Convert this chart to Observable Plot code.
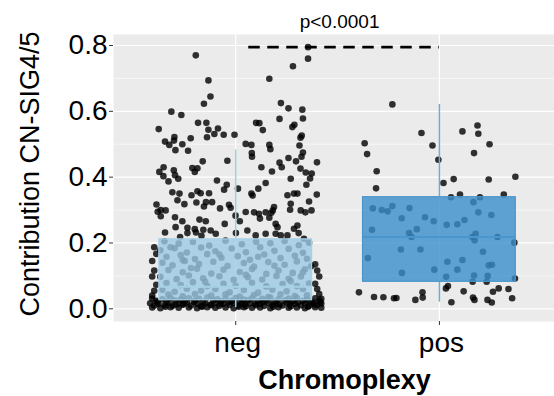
<!DOCTYPE html>
<html><head><meta charset="utf-8">
<script src="https://cdn.jsdelivr.net/npm/d3@7"></script>
<script src="https://cdn.jsdelivr.net/npm/@observablehq/plot@0.6"></script>
<style>body{margin:0;background:#fff} svg{display:block}</style>
</head><body><div id="chart"></div>
<script>
// ---- data ----
const groups = ["neg", "pos"];
const q1 = [0.026, 0.082];
const median = [0.067, 0.218];
const q3 = [0.211, 0.339];
const whiskerLo = [0.003, 0.020];
const whiskerHi = [0.483, 0.621];
const yTicks = [0, 0.2, 0.4, 0.6, 0.8];
const yMinor = [0.1, 0.3, 0.5, 0.7];
const pLabel = "p<0.0001";
const sigY = 0.795, sigX1 = 1.064, sigX2 = 2.0;
const xTitle = "Chromoplexy";
const yTitle = "Contribution CN-SIG4/5";

// jittered points: [horizontal jitter, value]
const negPoints = [
[-0.196,0.770],[-0.134,0.694],[-0.124,0.645],[-0.156,0.623],[-0.316,0.599],[-0.267,0.589],[-0.378,0.546],[-0.185,0.565],[-0.144,0.565],[-0.134,0.544],[-0.087,0.548],[-0.141,0.521],[-0.105,0.531],[-0.059,0.529],[-0.006,0.529],[-0.347,0.508],[-0.326,0.498],[-0.301,0.522],[-0.303,0.511],[-0.262,0.500],[-0.221,0.518],[-0.296,0.482],[-0.234,0.480],[-0.162,0.448],[-0.041,0.450],[-0.375,0.416],[-0.354,0.430],[-0.355,0.403],[-0.304,0.421],[-0.298,0.406],[-0.213,0.428],[-0.188,0.427],[-0.201,0.416],[-0.282,0.395],
[0.355,0.795],[0.355,0.760],[0.281,0.737],[0.165,0.699],[0.222,0.625],[0.259,0.609],[0.327,0.605],[0.215,0.577],[0.330,0.578],[0.100,0.565],[0.116,0.564],[0.288,0.559],[0.278,0.552],[0.133,0.543],[0.324,0.526],[0.318,0.520],[0.049,0.501],[0.077,0.498],[0.165,0.498],[0.170,0.485],[0.313,0.496],[0.330,0.475],[0.323,0.462],[0.079,0.473],[0.080,0.462],[0.259,0.458],[0.296,0.448],[0.399,0.445],[0.126,0.430],[0.215,0.444],[0.226,0.430],[0.178,0.417],[0.318,0.426],[0.344,0.414],[0.373,0.411],[0.270,0.395],[0.365,0.396],[-0.092,0.390],
[-0.330,0.387],[-0.044,0.377],[-0.057,0.362],[0.011,0.365],[-0.311,0.354],[-0.276,0.350],[-0.217,0.345],[-0.188,0.357],[-0.172,0.351],[-0.131,0.351],[-0.286,0.330],[-0.252,0.318],[-0.193,0.323],[-0.146,0.324],[-0.116,0.324],[-0.156,0.311],[-0.077,0.305],[-0.033,0.316],[-0.025,0.307],[-0.389,0.317],[-0.383,0.295],[-0.368,0.300],[-0.344,0.299],[-0.368,0.281],[-0.298,0.278],[-0.262,0.266],[-0.178,0.271],[-0.147,0.266],[-0.054,0.258],[-0.001,0.283],[0.020,0.266],[0.049,0.294],[-0.295,0.248],[-0.347,0.232],[-0.237,0.246],[-0.201,0.242],[-0.237,0.230],[-0.195,0.232],[-0.159,0.240],[-0.123,0.238],[-0.098,0.228],[-0.273,0.218],[-0.168,0.222],[0.001,0.230],
[0.077,0.350],[0.083,0.344],[0.111,0.365],[0.147,0.382],[0.254,0.345],[0.286,0.350],[0.303,0.350],[0.347,0.377],[0.398,0.347],[0.360,0.326],[0.090,0.293],[0.114,0.289],[0.119,0.274],[0.147,0.293],[0.175,0.292],[0.188,0.309],[0.182,0.299],[0.196,0.258],[0.205,0.248],[0.165,0.277],[0.270,0.319],[0.267,0.301],[0.319,0.299],[0.342,0.293],[0.372,0.299],[0.303,0.253],[0.286,0.243],[0.309,0.230],[0.221,0.223],[0.254,0.223],[0.335,0.213],[0.098,0.223],[0.147,0.228],[0.196,0.228],[0.057,0.238],
[-0.35,0.205],[-0.28,0.198],[-0.21,0.203],[-0.13,0.192],[-0.05,0.207],[0.03,0.196],[0.10,0.204],[0.17,0.199],[0.24,0.206],[0.31,0.193],[0.36,0.201],
[-0.37,0.178],[-0.30,0.184],[-0.24,0.171],[-0.17,0.186],[-0.10,0.175],[-0.02,0.183],[0.05,0.172],[0.12,0.187],[0.19,0.176],[0.26,0.182],[0.33,0.170],
[-0.34,0.158],[-0.27,0.163],[-0.20,0.151],[-0.14,0.166],[-0.07,0.155],[0.01,0.160],[0.07,0.149],[0.14,0.165],[0.22,0.154],[0.29,0.161],[0.35,0.152],
[-0.36,0.140],[-0.31,0.132],[-0.25,0.145],[-0.18,0.136],[-0.11,0.143],[-0.04,0.130],[0.04,0.139],[0.09,0.128],[0.16,0.142],[0.24,0.134],[0.30,0.144],[0.37,0.129],
[-0.33,0.118],[-0.26,0.111],[-0.19,0.122],[-0.12,0.107],[-0.06,0.119],[0.02,0.112],[0.08,0.121],[0.15,0.106],[0.21,0.116],[0.28,0.109],[0.34,0.120],
[-0.37,0.097],[-0.29,0.090],[-0.23,0.101],[-0.16,0.093],[-0.08,0.099],[-0.01,0.088],[0.06,0.096],[0.13,0.089],[0.20,0.100],[0.26,0.091],[0.32,0.098],
[-0.34,0.078],[-0.27,0.072],[-0.21,0.081],[-0.14,0.069],[-0.06,0.076],[0.00,0.070],[0.08,0.079],[0.15,0.068],[0.23,0.075],[0.30,0.069],[0.36,0.077],
[-0.36,0.058],[-0.30,0.052],[-0.24,0.061],[-0.17,0.055],[-0.10,0.060],[-0.03,0.050],[0.04,0.057],[0.11,0.049],[0.18,0.058],[0.25,0.053],[0.33,0.060],
[-0.33,0.043],[-0.26,0.038],[-0.20,0.045],[-0.12,0.040],[-0.05,0.044],[0.02,0.037],[0.09,0.042],[0.16,0.036],[0.22,0.044],[0.29,0.039],[0.35,0.041],
[-0.32,0.187],[-0.08,0.165],[0.11,0.158],[-0.22,0.124],[0.19,0.131],[-0.15,0.082],[0.27,0.084],[0.05,0.103],[-0.26,0.148],[0.33,0.111],
[-0.40,0.187],[-0.39,0.167],[-0.41,0.145],[-0.40,0.116],[-0.41,0.098],[-0.39,0.073],[-0.40,0.055],[-0.41,0.040],
[0.39,0.135],[0.40,0.116],[0.41,0.098],[0.39,0.076],[0.40,0.060],[0.41,0.045],
[-0.41,0.031],[-0.36,0.029],[-0.32,0.033],[-0.27,0.028],[-0.23,0.032],[-0.18,0.030],[-0.14,0.034],[-0.09,0.029],[-0.05,0.031],[0.00,0.033],[0.04,0.028],[0.08,0.032],[0.13,0.030],[0.17,0.034],[0.21,0.029],[0.26,0.031],[0.30,0.033],[0.35,0.028],[0.39,0.032],[0.42,0.030],
[-0.39,0.024],[-0.34,0.022],[-0.30,0.026],[-0.25,0.023],[-0.20,0.025],[-0.16,0.021],[-0.11,0.026],[-0.07,0.023],[-0.02,0.024],[0.02,0.022],[0.06,0.026],[0.11,0.023],[0.15,0.025],[0.19,0.021],[0.24,0.026],[0.28,0.023],[0.33,0.024],[0.37,0.022],[0.41,0.026],
[-0.42,0.017],[-0.38,0.015],[-0.33,0.018],[-0.28,0.016],[-0.24,0.019],[-0.19,0.015],[-0.15,0.017],[-0.10,0.018],[-0.06,0.015],[-0.01,0.019],[0.03,0.016],[0.07,0.017],[0.12,0.015],[0.16,0.018],[0.20,0.016],[0.25,0.019],[0.29,0.015],[0.34,0.017],[0.38,0.018],[0.42,0.016],
[-0.40,0.010],[-0.35,0.011],[-0.31,0.009],[-0.26,0.012],[-0.22,0.010],[-0.17,0.008],[-0.12,0.011],[-0.08,0.009],[-0.03,0.012],[0.01,0.010],[0.05,0.008],[0.10,0.011],[0.14,0.009],[0.18,0.012],[0.23,0.010],[0.27,0.008],[0.32,0.011],[0.36,0.009],[0.40,0.012],
[-0.41,0.004],[-0.37,0.002],[-0.32,0.005],[-0.28,0.003],[-0.23,0.004],[-0.19,0.002],[-0.14,0.005],[-0.10,0.003],[-0.05,0.004],[-0.01,0.002],[0.04,0.005],[0.08,0.003],[0.12,0.004],[0.17,0.002],[0.21,0.005],[0.26,0.003],[0.30,0.004],[0.34,0.002],[0.39,0.005],[0.42,0.003],
[-0.385,0.020],[-0.295,0.013],[-0.205,0.021],[-0.125,0.013],[-0.035,0.020],[0.045,0.013],[0.135,0.021],[0.215,0.013],[0.305,0.020],[0.385,0.013],
[-0.345,0.006],[-0.255,0.015],[-0.165,0.006],[-0.075,0.015],[0.015,0.006],[0.095,0.015],[0.185,0.006],[0.265,0.015],[0.355,0.006],[0.415,0.020]
];

const posPoints = [
[-0.231,0.621],[-0.088,0.534],[-0.367,0.503],[-0.355,0.470],[-0.034,0.496],[-0.005,0.453],[0.113,0.539],[0.187,0.557],[0.191,0.532],[0.246,0.500],[0.170,0.473],[-0.308,0.418],[-0.311,0.366],[0.020,0.382],[0.070,0.394],[0.242,0.393],[0.373,0.401],[0.057,0.339],[0.101,0.347],[0.199,0.339],[0.316,0.347],
[-0.327,0.305],[-0.283,0.300],[-0.254,0.296],[-0.231,0.312],[-0.147,0.306],[-0.185,0.275],[-0.071,0.278],[-0.028,0.266],[0.036,0.255],[0.088,0.257],[0.123,0.270],[0.167,0.324],[0.191,0.293],[0.255,0.285],
[-0.331,0.240],[-0.149,0.230],[-0.137,0.218],[-0.111,0.242],[0.162,0.218],[0.173,0.208],[0.178,0.228],[0.285,0.218],[0.368,0.201],[-0.351,0.154],[-0.189,0.180],[-0.093,0.180],[0.039,0.143],[0.113,0.148],[0.214,0.173],[0.242,0.132],[0.258,0.134],
[-0.184,0.109],[-0.025,0.119],[0.088,0.119],[0.033,0.097],[0.170,0.101],[0.237,0.100],[0.371,0.092],[0.163,0.082],[0.232,0.082],
[-0.395,0.050],[-0.321,0.036],[-0.275,0.035],[-0.223,0.032],[-0.211,0.033],[-0.118,0.027],[-0.083,0.050],[-0.082,0.034],[0.032,0.062],[0.042,0.069],[0.059,0.020],[0.119,0.053],[0.165,0.034],[0.172,0.027],[0.236,0.027],[0.257,0.019],[0.263,0.052],[0.291,0.062],[0.339,0.060],[0.357,0.032]
];

// ---- chart ----
const boxes = groups.map((g, i) => ({
  x: i + 1, q1: q1[i], median: median[i], q3: q3[i], lo: whiskerLo[i], hi: whiskerHi[i]
}));
const fills = ["#9ccbe6", "#3a8fcd"];
const strokes = ["#a7d0e7", "#4a95cb"];
const whisk = ["#a3cde5", "#6aaed8"];
const font = "'Liberation Sans', Arial, Helvetica, sans-serif";

const boxMarks = boxes.flatMap((b, i) => [
  Plot.ruleX([b], {x: "x", y1: "lo", y2: "q1", stroke: whisk[i], strokeWidth: 1.5}),
  Plot.ruleX([b], {x: "x", y1: "q3", y2: "hi", stroke: whisk[i], strokeWidth: 1.5}),
  Plot.rect([b], {x1: d => d.x - 0.375, x2: d => d.x + 0.375, y1: "q1", y2: "q3",
    fill: fills[i], fillOpacity: 0.8, stroke: strokes[i], strokeWidth: 1.2}),
  Plot.ruleY([b], {y: "median", x1: d => d.x - 0.375, x2: d => d.x + 0.375, stroke: strokes[i], strokeWidth: 2})
]);

const chart = Plot.plot({
  width: 554, height: 396,
  marginLeft: 113, marginRight: 0, marginTop: 34, marginBottom: 75,
  style: {fontFamily: font, background: "white", color: "black"},
  x: {type: "linear", domain: [0.4, 2.565], axis: null},
  y: {domain: [-0.0386, 0.8334], axis: null},
  marks: [
    Plot.frame({fill: "#EBEBEB", stroke: null}),
    Plot.ruleY(yMinor, {stroke: "white", strokeWidth: 0.6}),
    Plot.ruleY(yTicks, {stroke: "white", strokeWidth: 1.2}),
    Plot.ruleX([1, 2], {stroke: "white", strokeWidth: 1.2}),
    Plot.dot(negPoints, {x: d => 1 + d[0], y: d => d[1], r: 3.3, fill: "black", fillOpacity: 0.8, stroke: null}),
    Plot.dot(posPoints, {x: d => 2 + d[0], y: d => d[1], r: 3.3, fill: "black", fillOpacity: 0.8, stroke: null}),
    ...boxMarks,
    Plot.ruleY([sigY], {x1: sigX1, x2: sigX2, stroke: "black", strokeWidth: 2.6, strokeDasharray: "11.5,7.5"}),
    Plot.text([pLabel], {x: 1.51, frameAnchor: "top", lineAnchor: "middle", dy: -12.4, fontSize: 19, fill: "black"}),
    Plot.axisY(yTicks, {tickFormat: d3.format(".1f"), tickSize: 4, tickPadding: 2, fontSize: 28, stroke: "#333", label: null}),
    Plot.axisX([1, 2], {tickFormat: () => "", tickSize: 4, stroke: "#333", label: null}),
    Plot.axisX([1, 2], {tickFormat: d => groups[d - 1], tickSize: 0, tickPadding: 11, dx: 2, fontSize: 28, label: null}),
    Plot.text([xTitle], {frameAnchor: "bottom", lineAnchor: "middle", textAnchor: "middle", dx: 10.5, dy: 58.4, fontSize: 27, fontWeight: "bold", fill: "black"}),
    Plot.text([yTitle], {frameAnchor: "left", lineAnchor: "middle", textAnchor: "middle", rotate: -90, dx: -83, dy: -4, fontSize: 27, fill: "black"})
  ]
});
document.getElementById("chart").appendChild(chart);
</script>
</body></html>
